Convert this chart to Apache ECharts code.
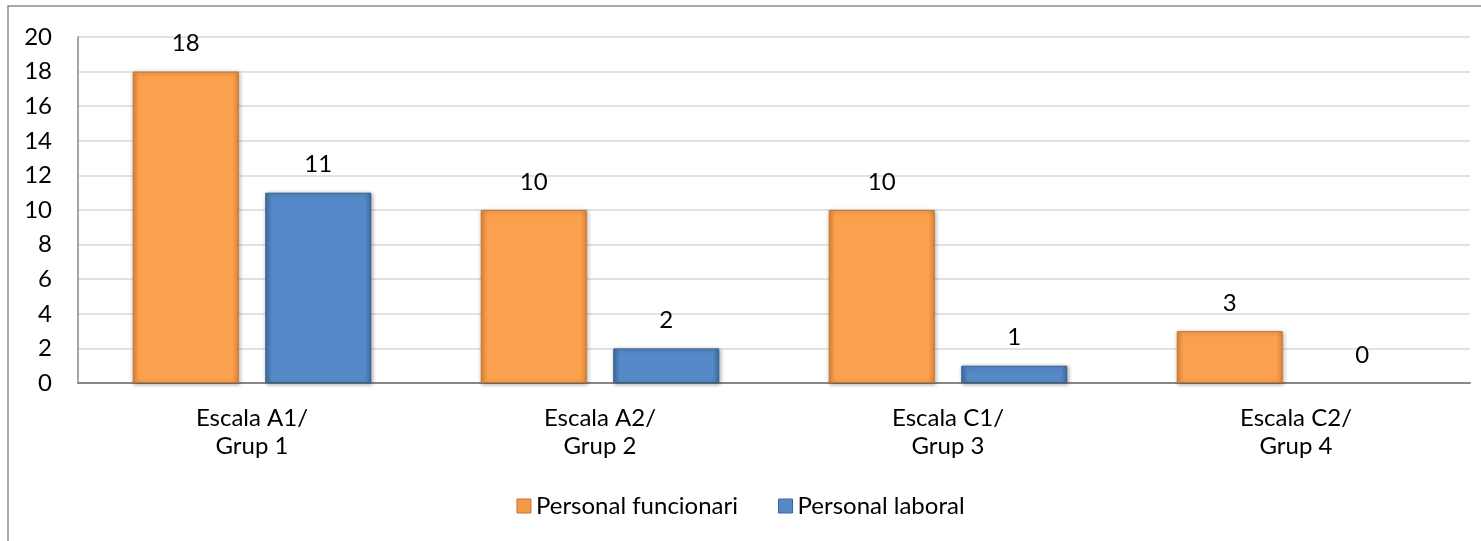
<!DOCTYPE html>
<html>
<head>
<meta charset="utf-8">
<script src="https://cdn.jsdelivr.net/npm/echarts@6/dist/echarts.min.js"></script>
<style>
  html, body { margin: 0; padding: 0; background: #fff; }
  #chart { width: 1481px; height: 541px; }
</style>
</head>
<body>
<div id="chart"></div>
<script>
// Staff counts by salary scale / group
const categories = ['Escala A1/\nGrup 1', 'Escala A2/\nGrup 2', 'Escala C1/\nGrup 3', 'Escala C2/\nGrup 4'];
const funcionari = [18, 10, 10, 3];
const laboral = [11, 2, 1, 0];
const seriesNames = ['Personal funcionari', 'Personal laboral'];

const FONT = 'Lato, "Open Sans", sans-serif';
const FS = 24;

// Bevelled bar fill: darker sides, lighter centre
function bevel(edge, mid) {
  return {
    type: 'linear', x: 0, y: 0, x2: 1, y2: 0,
    colorStops: [
      { offset: 0, color: edge },
      { offset: 0.06, color: mid },
      { offset: 0.94, color: mid },
      { offset: 1, color: edge }
    ]
  };
}

// Zero-height bars get no outline so nothing is drawn for them
function barData(values) {
  return values.map(v => v === 0 ? { value: v, itemStyle: { borderWidth: 0, shadowBlur: 0, shadowColor: 'transparent' } } : v);
}

const orangeFill = bevel('#E8883A', '#FBA04D');
const blueFill = bevel('#3F6EA8', '#5689C8');

const chart = echarts.init(document.getElementById('chart'), null, { renderer: 'canvas' });

const labelStyle = {
  show: true,
  position: 'top',
  distance: 16,
  color: '#000',
  fontSize: FS,
  fontFamily: FONT
};

chart.setOption({
  animation: false,
  backgroundColor: '#fff',
  graphic: [{
    type: 'rect',
    shape: { x: 8, y: 6, width: 1600, height: 700 },
    style: { fill: 'none', stroke: '#8c8c8c', lineWidth: 1.5 },
    silent: true,
    z: -1
  }],
  grid: { left: 78, right: 11, top: 37, bottom: 158, containLabel: false },
  legend: {
    top: 489,
    left: 'center',
    itemWidth: 14,
    itemHeight: 14,
    itemGap: 40,
    icon: 'rect',
    textStyle: { color: '#000', fontSize: FS, fontFamily: FONT, padding: [0, 0, 0, 0] },
    data: [
      { name: seriesNames[0], itemStyle: { color: '#F4994A', borderColor: '#C0702E', borderWidth: 1 } },
      { name: seriesNames[1], itemStyle: { color: '#5689C8', borderColor: '#3A669C', borderWidth: 1 } }
    ]
  },
  xAxis: {
    type: 'category',
    data: categories,
    axisLine: { show: true, lineStyle: { color: '#878787', width: 2 } },
    axisTick: { show: false },
    axisLabel: {
      color: '#000',
      fontSize: FS,
      fontFamily: FONT,
      lineHeight: 28,
      margin: 21
    }
  },
  yAxis: {
    type: 'value',
    min: 0,
    max: 20,
    interval: 2,
    axisLine: { show: true, lineStyle: { color: '#878787', width: 1.5 } },
    axisTick: { show: false },
    axisLabel: { color: '#000', fontSize: FS, fontFamily: FONT, margin: 26 },
    splitLine: { show: true, lineStyle: { color: '#d9d9d9', width: 1.5 } }
  },
  series: [
    {
      name: seriesNames[0],
      type: 'bar',
      data: barData(funcionari),
      barWidth: 106,
      barGap: '25%',
      itemStyle: {
        color: orangeFill,
        borderColor: '#C8782F',
        borderWidth: 1,
        shadowColor: 'rgba(0,0,0,0.35)',
        shadowBlur: 4,
        shadowOffsetX: 1,
        shadowOffsetY: 1
      },
      label: labelStyle
    },
    {
      name: seriesNames[1],
      type: 'bar',
      data: barData(laboral),
      barWidth: 106,
      itemStyle: {
        color: blueFill,
        borderColor: '#36608F',
        borderWidth: 1,
        shadowColor: 'rgba(0,0,0,0.35)',
        shadowBlur: 4,
        shadowOffsetX: 1,
        shadowOffsetY: 1
      },
      label: labelStyle
    }
  ]
});
</script>
</body>
</html>
